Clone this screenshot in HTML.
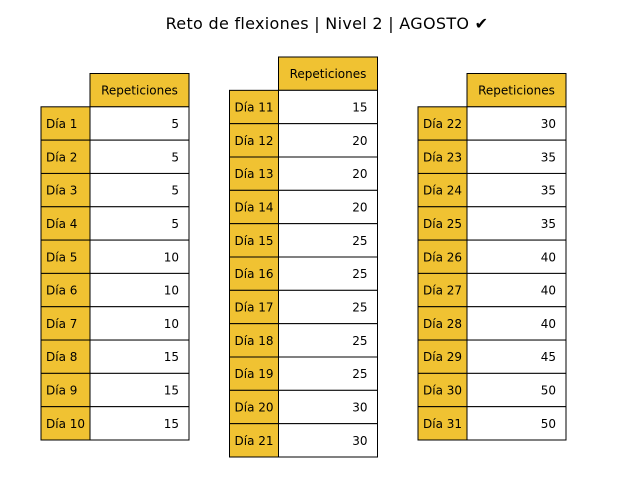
<!DOCTYPE html>
<html><head><meta charset="utf-8"><style>
body{margin:0;background:#fff;}
svg{display:block;font-family:"DejaVu Sans","Liberation Sans",sans-serif;}
</style></head><body>
<svg id="chart" width="640" height="480" viewBox="0 0 640 480">
<text x="327" y="29" font-size="16" letter-spacing="0.3" text-anchor="middle" fill="#000">Reto de flexiones | Nivel 2 | AGOSTO ✔</text>
</svg>
<script>
const days1 = ["Día 1","Día 2","Día 3","Día 4","Día 5","Día 6","Día 7","Día 8","Día 9","Día 10"];
const reps1 = [5,5,5,5,10,10,10,15,15,15];
const days2 = ["Día 11","Día 12","Día 13","Día 14","Día 15","Día 16","Día 17","Día 18","Día 19","Día 20","Día 21"];
const reps2 = [15,20,20,20,25,25,25,25,25,30,30];
const days3 = ["Día 22","Día 23","Día 24","Día 25","Día 26","Día 27","Día 28","Día 29","Día 30","Día 31"];
const reps3 = [30,35,35,35,40,40,40,45,50,50];
const header = "Repeticiones";

const svg = document.getElementById('chart');
const NS = "http://www.w3.org/2000/svg";
const gold = "#f0c232";
const fs = 12;
function mk(tag, attrs){const e=document.createElementNS(NS,tag);for(const k in attrs)e.setAttribute(k,attrs[k]);return e;}
function table(days, reps, lx, top, bottom, idx){
  const g = mk('g',{});
  
  
  svg.appendChild(g);
  const lw=49, vw=99;
  const n = days.length + 1;
  const rh = (bottom-top)/n;
  const vx = lx+lw;
  const hr = mk('rect',{x:vx,y:top,width:vw,height:rh,fill:gold,stroke:"#000","stroke-width":1});
  
  
  g.appendChild(hr);
  const ht = mk('text',{x:vx+vw/2,y:top+rh/2+4.5,"font-size":fs,"text-anchor":"middle"});
  ht.textContent = header;
  
  
  g.appendChild(ht);
  days.forEach((d,i)=>{
    const y = top + rh*(i+1);
    const r1 = mk('rect',{x:lx,y:y,width:lw,height:rh,fill:gold,stroke:"#000","stroke-width":1});
    
    
    g.appendChild(r1);
    const r2 = mk('rect',{x:vx,y:y,width:vw,height:rh,fill:"#fff",stroke:"#000","stroke-width":1});
    
    
    g.appendChild(r2);
    const t1 = mk('text',{x:lx+5,y:y+rh/2+4.5,"font-size":fs});
    t1.textContent = d;
    
    
    g.appendChild(t1);
    const t2 = mk('text',{x:vx+vw-10,y:y+rh/2+4.5,"font-size":fs,"text-anchor":"end"});
    t2.textContent = reps[i];
    
    
    g.appendChild(t2);
  });
}
table(days1, reps1, 41, 73.5, 440, 1);
table(days2, reps2, 229.5, 57, 457, 2);
table(days3, reps3, 418, 73.5, 440, 3);
</script>
</body></html>
